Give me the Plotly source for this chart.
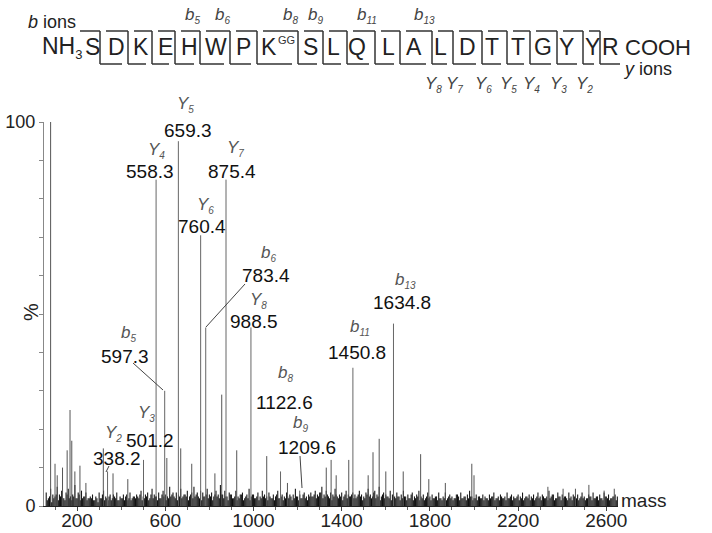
import plotly.graph_objects as go

# ---------------- data ----------------
# labelled fragment ions
label_ion = ["Y|5", "Y|4", "Y|7", "Y|6", "b|6", "Y|8", "b|13", "b|11", "b|5", "b|8", "b|9", "Y|3", "Y|2"]
label_mz = [659.3, 558.3, 875.4, 760.4, 783.4, 988.5, 1634.8, 1450.8, 597.3, 1122.6, 1209.6, 501.2, 338.2]
label_int = [95, 85, 85, 70.5, 46.5, 46.5, 47.5, 36, 30, 9, 4, 12, 9]

# other visible peaks
peak_mz = [80, 100, 110, 134, 155, 168, 176, 190, 213, 240, 319, 363, 430, 607, 670, 720,
           825, 856, 924, 1060, 1154, 1330, 1352, 1375, 1432, 1520, 1542, 1570, 1600, 1679,
           1758, 1795, 1870, 1990, 2000, 2335, 2404, 2460, 2521, 2590, 2636]
peak_int = [100, 11, 8, 10, 14.5, 25, 17, 9, 10.5, 6, 15, 8.5, 7, 12.5, 15, 11,
            8.5, 29, 14.5, 13, 6, 10, 12, 8, 12, 8, 14, 17.5, 9, 9,
            13.5, 7, 6, 11, 8, 5, 4.5, 4.5, 5.5, 4, 4.5]

# baseline "grass" (read every 10 mass units, two interleaved sets)
noise_mz = list(range(60, 2660, 10))
noise_int = [
    3.5, 2.0, 4.5, 3.0, 2.5, 5.0, 3.0, 4.0, 2.0, 3.5, 4.5, 2.5, 3.0, 5.5, 2.0, 3.0, 4.0, 2.5, 3.5, 2.0,
    2.5, 3.0, 1.5, 2.0, 3.5, 2.0, 4.0, 2.5, 1.5, 3.0, 2.0, 2.5, 3.5, 1.5, 2.0, 3.0, 2.5, 1.5, 3.5, 2.0,
    2.5, 3.0, 2.0, 4.0, 2.5, 3.0, 3.5, 2.0, 4.5, 3.0, 2.5, 3.5, 2.0, 4.0, 3.0, 2.5, 5.0, 3.0, 2.5, 3.5,
    3.0, 4.5, 2.5, 3.0, 4.0, 2.5, 3.5, 5.0, 3.0, 2.5, 4.0, 3.5, 2.5, 4.5, 3.0, 3.5, 2.5, 4.0, 3.0, 5.5,
    3.0, 4.0, 2.5, 3.5, 3.0, 2.0, 4.0, 2.5, 3.0, 3.5, 2.0, 3.0, 4.5, 2.5, 3.0, 2.0, 3.5, 2.5, 4.0, 3.0,
    2.5, 3.5, 2.0, 3.0, 2.5, 4.0, 2.0, 3.0, 2.5, 3.5, 2.0, 2.5, 3.0, 4.5, 2.5, 3.0, 2.0, 3.5, 2.5, 3.0,
    3.5, 2.5, 4.0, 3.0, 3.5, 5.0, 3.0, 4.0, 2.5, 3.5, 3.0, 4.5, 2.5, 3.0, 3.5, 2.5, 4.0, 3.0, 2.5, 3.5,
    3.0, 2.5, 4.0, 3.0, 2.5, 3.5, 4.5, 3.0, 2.5, 4.0, 3.0, 5.0, 2.5, 3.5, 3.0, 2.5, 4.0, 3.0, 2.5, 3.5,
    2.5, 3.0, 4.0, 2.5, 3.0, 2.0, 3.5, 2.5, 3.0, 4.0, 2.5, 3.0, 2.0, 3.5, 2.5, 3.0, 2.0, 2.5, 3.5, 2.0,
    2.5, 3.5, 2.0, 3.0, 2.5, 2.0, 3.0, 2.5, 3.5, 2.0, 2.5, 3.0, 4.0, 2.5, 2.0, 3.0, 2.5, 2.0, 3.0, 2.5,
    2.0, 3.0, 2.5, 3.5, 2.0, 2.5, 3.0, 2.0, 2.5, 3.5, 2.0, 3.0, 2.5, 2.0, 3.0, 2.5, 3.5, 2.0, 2.5, 3.0,
    2.5, 3.0, 2.0, 3.5, 2.5, 3.0, 2.0, 2.5, 4.0, 2.5, 3.0, 2.0, 3.5, 2.5, 3.0, 2.5, 2.0, 3.5, 2.5, 3.0,
    2.5, 3.0, 2.0, 3.5, 2.5, 2.0, 3.0, 2.5, 3.5, 2.0, 2.5, 3.0, 2.0, 3.5, 2.5, 3.0, 2.0, 2.5, 3.0, 2.5,
]
noise2_mz = list(range(65, 2660, 10))
noise2_int = [
    1.5, 2.5, 1.0, 2.0, 3.0, 1.5, 2.5, 2.0, 1.5, 3.0, 2.0, 1.5, 2.5, 2.0, 3.5, 1.5, 2.0, 2.5, 1.5, 2.0,
    2.0, 1.5, 2.5, 1.0, 2.0, 3.0, 1.5, 2.0, 2.5, 1.5, 3.0, 2.0, 1.5, 2.5, 2.0, 1.5, 3.0, 2.0, 1.5, 2.5,
    2.0, 2.5, 3.0, 1.5, 2.0, 2.5, 1.5, 3.0, 2.0, 2.5, 1.5, 2.0, 3.0, 2.5, 1.5, 2.0, 2.5, 3.5, 2.0, 1.5,
    2.5, 2.0, 3.0, 2.5, 1.5, 3.0, 2.0, 2.5, 3.5, 2.0, 1.5, 2.5, 3.0, 2.0, 2.5, 1.5, 3.0, 2.5, 2.0, 3.0,
    2.0, 2.5, 1.5, 3.0, 2.0, 2.5, 1.5, 2.0, 3.0, 1.5, 2.5, 2.0, 1.5, 3.0, 2.0, 2.5, 1.5, 2.0, 2.5, 2.0,
    1.5, 2.5, 2.0, 1.5, 3.0, 2.0, 2.5, 1.5, 2.0, 2.5, 3.0, 1.5, 2.0, 2.5, 1.5, 2.0, 3.0, 2.0, 1.5, 2.5,
    2.5, 3.0, 2.0, 2.5, 3.5, 2.0, 2.5, 3.0, 2.0, 1.5, 2.5, 3.0, 2.0, 2.5, 1.5, 3.0, 2.0, 2.5, 3.0, 2.0,
    2.0, 3.0, 2.5, 1.5, 2.0, 3.0, 2.5, 2.0, 3.5, 2.0, 2.5, 1.5, 3.0, 2.0, 2.5, 2.0, 1.5, 3.0, 2.0, 2.5,
    1.5, 2.0, 2.5, 1.5, 2.0, 3.0, 1.5, 2.0, 2.5, 1.5, 2.0, 1.5, 2.5, 2.0, 1.5, 2.0, 2.5, 1.5, 2.0, 1.5,
    2.0, 1.5, 2.5, 2.0, 1.5, 2.0, 3.0, 1.5, 2.0, 2.5, 1.5, 2.0, 2.5, 1.5, 2.0, 1.5, 2.5, 2.0, 1.5, 2.0,
    1.5, 2.0, 2.5, 1.5, 2.0, 1.5, 2.5, 2.0, 1.5, 2.0, 2.5, 1.5, 2.0, 2.5, 1.5, 2.0, 1.5, 2.5, 2.0, 1.5,
    2.0, 1.5, 2.5, 2.0, 1.5, 2.5, 2.0, 1.5, 2.0, 3.0, 1.5, 2.0, 2.5, 1.5, 2.0, 2.5, 1.5, 2.0, 1.5, 2.5,
    2.0, 1.5, 2.5, 2.0, 1.5, 2.0, 2.5, 1.5, 2.0, 2.5, 1.5, 2.0, 1.5, 2.5, 2.0, 1.5, 2.0, 2.5, 1.5, 2.0,
]

# peptide sequence
residues = ["S", "D", "K", "E", "H", "W", "P", "K", "S", "L", "Q", "L", "A", "L", "D", "T", "T", "G", "Y", "Y", "R"]
b_ions = [5, 6, 8, 9, 11, 13]
y_ions = [8, 7, 6, 5, 4, 3, 2]

x_tickvals = [200, 600, 1000, 1400, 1800, 2200, 2600]

# ---------------- layout geometry ----------------
W, H = 712, 533
L, R, T, B = 44, 618, 122, 506
XMIN, XMAX = 50, 2653
FONT = "Liberation Sans, Arial, sans-serif"


def pxp(px):
    return (px - L) / (R - L)


def pyp(py):
    return (B - py) / (B - T)


def ion_html(name, sub=10):
    letter, num = name.split("|")
    return f"<i>{letter}<sub><span style='font-size:{sub}px'>{num}</span></sub></i>"


def sticks(mz, inten):
    xs, ys = [], []
    for m, h in zip(mz, inten):
        xs += [m, m, None]
        ys += [0, h, None]
    return xs, ys


fig = go.Figure()
for mz, it, col, w in [(noise_mz, noise_int, "#1a1a1a", 1.1), (noise2_mz, noise2_int, "#111111", 1.1),
                       (peak_mz, peak_int, "#555555", 1), (label_mz, label_int, "#666666", 1)]:
    sx, sy = sticks(mz, it)
    fig.add_trace(go.Scatter(x=sx, y=sy, mode="lines", line=dict(color=col, width=w),
                             hoverinfo="skip", showlegend=False))

annotations = []
shapes = []


def ptext(x, y, text, size, color="#222222", xanchor="center", **kw):
    annotations.append(dict(x=pxp(x), y=pyp(y), xref="paper", yref="paper", text=text, showarrow=False,
                            font=dict(family=FONT, size=size, color=color), xanchor=xanchor,
                            yanchor="middle", **kw))


# peak labels (ion above, mass below) - pixel positions of label centres
ion_pos = [(185, 104), (156, 150), (235, 148), (205, 205), (268, 253), (258, 300), (405, 280),
           (360, 327), (128, 333), (285, 373), (300, 423), (146, 413), (113, 433)]
mass_pos = [(188, 130), (150, 171), (232, 171), (202, 226), (266, 275), (254, 321), (402, 302),
            (357, 352), (125, 356), (284, 402), (307, 447), (150, 440), (117, 458)]
for name, m, ip, mp in zip(label_ion, label_mz, ion_pos, mass_pos):
    ptext(ip[0], ip[1], ion_html(name), 17, "#555555")
    ptext(mp[0], mp[1], f"{m:.1f}", 19, "#111111")

# leader lines
for (x0, y0, x1, y1) in [(133, 363, 163, 390), (245, 284, 206, 327), (109, 466, 106, 472), (300, 456, 302, 488)]:
    shapes.append(dict(type="line", xref="paper", yref="paper", x0=pxp(x0), y0=pyp(y0), x1=pxp(x1), y1=pyp(y1),
                       line=dict(color="#444444", width=1)))

# ---------------- peptide sequence header ----------------
res_x = [92, 116, 141, 165, 189, 216, 243, 269, 310, 333, 357, 388, 414, 440, 467, 492, 518, 543, 566, 592, 610]
sep_x = [100, 128, 152, 175, 200, 230, 257, 298, 323, 347, 375, 400, 432, 453, 482, 507, 530, 557, 583, 600]
Y_TOP, Y_BOT, Y_LET = 31, 64, 47
boxline = dict(color="#333333", width=1.5)

for r, x in zip(residues, res_x):
    ptext(x, Y_LET, r, 23)
ptext(62, Y_LET, "NH<sub><span style='font-size:13px'>3</span></sub>", 23)
ptext(286, 40, "GG", 11, "#333333")
ptext(623, Y_LET, "COOH", 22, xanchor="left")
ptext(78, 22, "<i>b</i> ions", 18, xanchor="right")
ptext(621, 69, "<i>y</i> ions", 18, xanchor="left")

for i, s in enumerate(sep_x):
    top_start = 80 if i == 0 else sep_x[i - 1] + 6
    bot_end = 620 if i == len(sep_x) - 1 else sep_x[i + 1] - 6
    for (x0, y0, x1, y1) in [(top_start, Y_TOP, s, Y_TOP), (s, Y_TOP, s, Y_BOT), (s, Y_BOT, bot_end, Y_BOT)]:
        shapes.append(dict(type="line", xref="paper", yref="paper", x0=pxp(x0), y0=pyp(y0),
                           x1=pxp(x1), y1=pyp(y1), line=boxline))

for n in b_ions:
    ptext(sep_x[n - 1] - 8, 16, ion_html(f"b|{n}"), 17, "#444444")
for n in y_ions:
    ptext(sep_x[len(residues) - n - 1] + 1, 85, ion_html(f"Y|{n}"), 17, "#444444")

# axis texts
ptext(31, 312, "%", 20, textangle=-90)
ptext(619, 500, "mass", 19, xanchor="left")

y_tickvals = list(range(0, 101, 10))
y_ticktext = ["0"] + [""] * 9 + ["100"]

fig.update_layout(
    width=W, height=H,
    margin=dict(l=L, r=W - R, t=T, b=H - B, autoexpand=False),
    paper_bgcolor="white", plot_bgcolor="white",
    showlegend=False,
    annotations=annotations, shapes=shapes,
    xaxis=dict(range=[XMIN, XMAX], automargin=False, showgrid=False, zeroline=False, showline=True,
               linecolor="#222222", linewidth=1, ticks="outside", ticklen=4, tickcolor="#444444",
               tickvals=x_tickvals, tickfont=dict(family=FONT, size=19, color="#222222"),
               ticklabelstandoff=-7,
               minor=dict(dtick=100, tick0=0, ticks="outside", ticklen=3, tickcolor="#666666")),
    yaxis=dict(range=[0, 100], automargin=False, showgrid=False, zeroline=False, showline=True,
               linecolor="#888888", linewidth=1, ticks="outside", ticklen=4, tickcolor="#888888",
               tickvals=y_tickvals, ticktext=y_ticktext,
               tickfont=dict(family=FONT, size=18, color="#222222")),
)

fig.write_html("out.html")
